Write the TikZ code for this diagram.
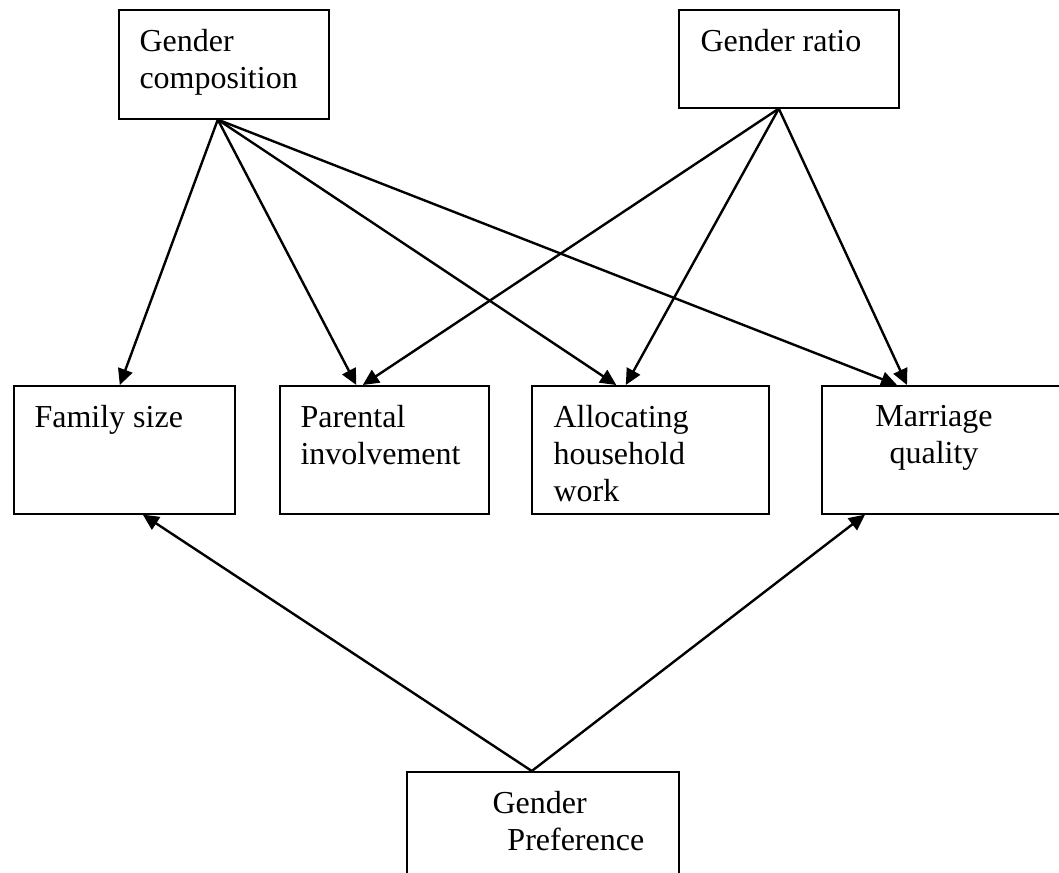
\documentclass[tikz,border=0pt]{standalone}
\usepackage{fontspec}
\setmainfont{Liberation Serif}
\usetikzlibrary{arrows.meta}
\begin{document}
\begin{tikzpicture}[x=0.375pt,y=-0.375pt]
		\tikzset{var box/.style={draw,line width=0.6pt,rectangle,anchor=north west,inner sep=0pt},
			var text/.style={anchor=north west,align=left,inner sep=0pt,font=\fontsize{12}{13.9}\selectfont},
			link/.style={line width=0.9pt,-{Triangle[length=6pt,width=5.6pt]}}}

		\path[use as bounding box,clip] (0,0) rectangle (1059,872);

		\node [var box,minimum width=78.75pt,minimum height=40.875pt] (gc) at (118,9) {};
		\node [var box,minimum width=82.5pt,minimum height=36.75pt] (gr) at (678,9) {};
		\node [var box,minimum width=82.875pt,minimum height=48pt] (fs) at (13,385) {};
		\node [var box,minimum width=78.375pt,minimum height=48pt] (pi) at (279,385) {};
		\node [var box,minimum width=88.875pt,minimum height=48pt] (ah) at (531,385) {};
		\node [var box,minimum width=91.5pt,minimum height=48pt] (mq) at (821,385) {};
		\node [var box,minimum width=102pt,minimum height=42.75pt] (gp) at (406,771) {};

		\node [var text] (gc text) at ([shift={(21,20)}]gc.north west) {Gender\\composition};
		\node [var text] (gr text) at ([shift={(22,20)}]gr.north west) {Gender ratio};
		\node [var text] (fs text) at ([shift={(21,20)}]fs.north west) {Family size};
		\node [var text] (pi text) at ([shift={(21,20)}]pi.north west) {Parental\\involvement};
		\node [var text] (ah text) at ([shift={(22,20)}]ah.north west) {Allocating\\household\\work};
		\node [var text,anchor=north,align=center] (mq text) at ([shift={(113,20)}]mq.north west) {Marriage\\quality};
		\node [var text] (gp text) at ([shift={(86,20)}]gp.north west) {Gender\\\hspace{5.6pt}Preference};

		\draw[link] ([shift={(-6,0)}]gc.south) -- ([shift={(-4.5,0)}]fs.north);
		\draw[link] ([shift={(-6,0)}]gc.south) -- ([shift={(-28,0)}]pi.north);
		\draw[link] ([shift={(-6,0)}]gc.south) -- ([shift={(-34,0)}]ah.north);
		\draw[link] ([shift={(-6,0)}]gc.south) -- ([shift={(76,0)}]mq.north west);
		\draw[link] ([shift={(-10,0)}]gr.south) -- ([shift={(-21.5,0)}]pi.north);
		\draw[link] ([shift={(-10,0)}]gr.south) -- ([shift={(-24.5,0)}]ah.north);
		\draw[link] ([shift={(-10,0)}]gr.south) -- ([shift={(86,0)}]mq.north west);
		\draw[link] ([shift={(-11,0)}]gp.north) -- ([shift={(18.5,0)}]fs.south);
		\draw[link] ([shift={(-11,0)}]gp.north) -- ([shift={(44,0)}]mq.south west);
	\end{tikzpicture}
\end{document}
